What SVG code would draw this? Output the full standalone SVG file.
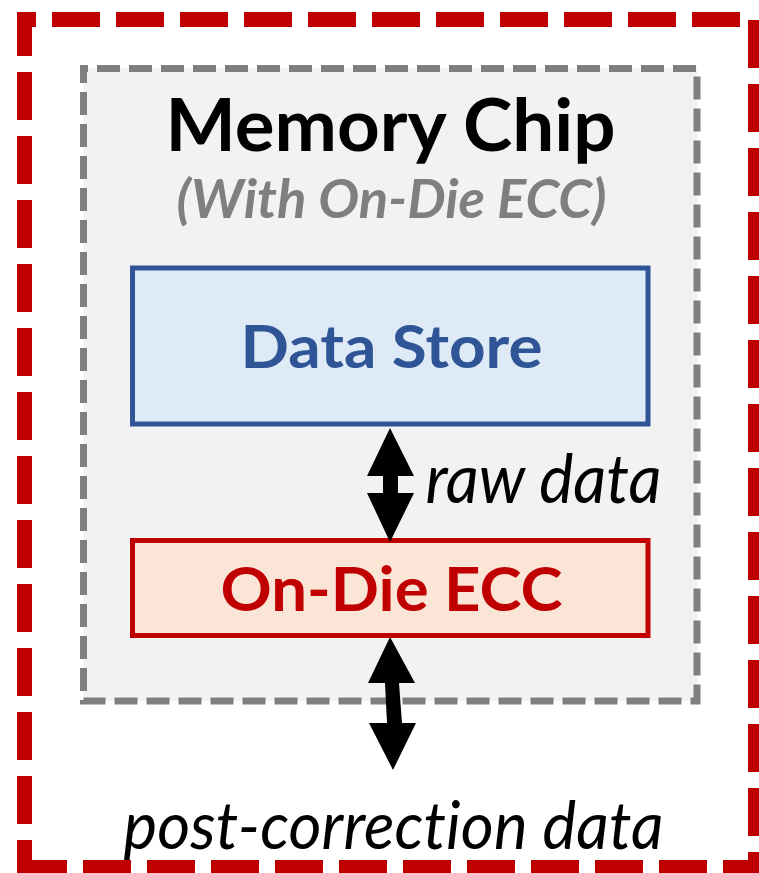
<svg xmlns="http://www.w3.org/2000/svg" width="759" height="873" viewBox="0 0 759 873">
  <style>
    .t { font-family: Lato, "Open Sans", "Liberation Sans", sans-serif; text-anchor: middle; font-variant-ligatures: none; font-feature-settings: "liga" 0, "clig" 0, "dlig" 0; }
    .b { font-weight: bold; }
    .i { font-style: italic; }
    .box { stroke-width: 5; }
    .arrow { fill: #000000; stroke: none; }
  </style>
  <rect width="759" height="873" fill="#ffffff"/>

  <!-- outer system boundary -->
  <g id="system-boundary">
    <path d="M24.5 867.5 V19.5 H755.5 V867.5 Z" fill="none" stroke="#c00000" stroke-width="15" stroke-dasharray="48 16" stroke-dashoffset="20.5" stroke-linejoin="miter"/>
  </g>

  <!-- memory chip container -->
  <g id="memory-chip">
    <path d="M83.5 68.5 H697 V701 H83.5 Z" fill="#f2f2f2" stroke="#7f7f7f" stroke-width="7" stroke-dasharray="23 9" stroke-dashoffset="18.5"/>
    <text class="t b" x="390.5" y="151" font-size="73" fill="#000000" textLength="450" lengthAdjust="spacingAndGlyphs">Memory Chip</text>
    <text class="t b i" x="391.5" y="218" font-size="53" fill="#7f7f7f" textLength="430" lengthAdjust="spacingAndGlyphs">(With On-Die ECC)</text>
  </g>

  <g id="data-store">
    <rect class="box" x="132.5" y="268" width="515.5" height="156" fill="#deebf7" stroke="#2f5597"/>
    <text class="t b" x="391.5" y="368" font-size="60" fill="#2f5597" textLength="302" lengthAdjust="spacingAndGlyphs">Data Store</text>
  </g>

  <g id="on-die-ecc">
    <rect class="box" x="132.5" y="540.5" width="515.5" height="95" fill="#fbe5d6" stroke="#c00000"/>
    <text class="t b" x="391.5" y="611" font-size="61" fill="#c00000" textLength="342" lengthAdjust="spacingAndGlyphs">On-Die ECC</text>
  </g>

  <!-- bidirectional data paths -->
  <g id="connectors">
    <polygon class="arrow" points="390,428 414,476 398,476 398,493 414,493 390,542 367,493 383,493 383,476 367,476"/>
    <polygon class="arrow" points="390,637 415,683 399,683 402,723 416,723 393,770 369,723 387,723 385,683 368,683"/>
    <text class="t i" x="543.5" y="503" font-size="67" fill="#000000" textLength="236" lengthAdjust="spacingAndGlyphs">raw data</text>
    <text class="t i" x="393.5" y="849" font-size="66" fill="#000000" textLength="540" lengthAdjust="spacingAndGlyphs" letter-spacing="0.1">post-correction data</text>
  </g>
</svg>
